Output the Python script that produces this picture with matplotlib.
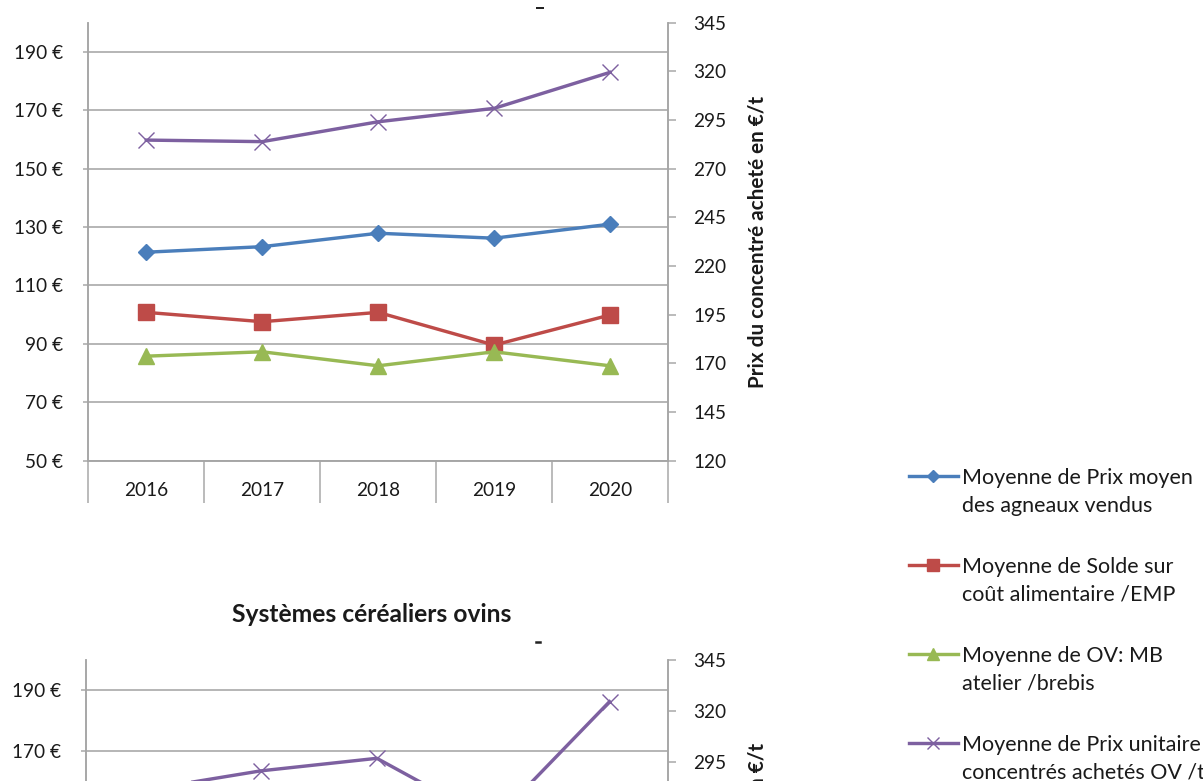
import matplotlib
matplotlib.use('Agg')
import matplotlib.pyplot as plt
from matplotlib.lines import Line2D
from matplotlib.ticker import FixedLocator, FuncFormatter, NullFormatter

plt.rcParams['font.family'] = ['Lato', 'DejaVu Sans']

# ---------------- data ----------------
years = ['2016', '2017', '2018', '2019', '2020']
prix_agneaux = [121.4, 123.3, 127.9, 126.2, 131.0]
solde_cout_alim = [100.8, 97.6, 100.8, 89.6, 99.9]
mb_atelier = [85.8, 87.3, 82.5, 87.3, 82.5]
prix_concentres = [284.7, 283.9, 294.1, 301.0, 319.5]
prix_concentres_cereal = [281.0, 290.4, 296.6, 265.3, 324.5]

left_ticks = [50, 70, 90, 110, 130, 150, 170, 190]
right_ticks = [120, 145, 170, 195, 220, 245, 270, 295, 320, 345]

legend_labels = [
    ("Moyenne de Prix moyen", "des agneaux vendus"),
    ("Moyenne de Solde sur", "coût alimentaire /EMP"),
    ("Moyenne de OV: MB", "atelier /brebis"),
    ("Moyenne de Prix unitaire", "concentrés achetés OV /t"),
]
title_bottom = "Systèmes céréaliers ovins"
right_label = "Prix du concentré acheté en €/t"

# ---------------- style ----------------
W, H = 1203, 781
DPI = 100
def pt(px):
    return px * 72.0 / DPI

BLUE = '#4A7EBB'
RED = '#BE4B48'
GREEN = '#98B954'
PURPLE = '#7D60A0'
GRID = '#A6A6A6'
TXT = '#1a1a1a'

fig = plt.figure(figsize=(W / DPI, H / DPI), dpi=DPI)
fig.patch.set_facecolor('white')

LW = pt(3.4)
styles = {
    'blue': dict(color=BLUE, marker='D', ms=pt(11.3), lw=LW),
    'red': dict(color=RED, marker='s', ms=pt(15.5), lw=LW),
    'green': dict(color=GREEN, marker='^', ms=pt(16), lw=LW),
    'purple': dict(color=PURPLE, marker='x', ms=pt(16), mew=pt(1.4), lw=LW),
}

def make_axes(left_px, right_px, top_px, bottom_px, min_left=None, min_right=None, xlabels=True):
    rect = [left_px / W, 1 - bottom_px / H, (right_px - left_px) / W, (bottom_px - top_px) / H]
    ax = fig.add_axes(rect)
    ax2 = ax.twinx()
    x = list(range(len(years)))
    ax.set_xlim(-0.5, len(years) - 0.5)
    ax.set_ylim(50, 200)
    ax2.set_ylim(120, 345)
    # left axis
    ax.yaxis.set_major_locator(FixedLocator(left_ticks))
    ax.yaxis.set_major_formatter(FuncFormatter(
        lambda v, p: f"{int(v)} €" if (min_left is None or v >= min_left) else ""))
    ax.yaxis.grid(True, color=GRID, lw=pt(1.6))
    ax.set_axisbelow(True)
    ax.tick_params(axis='y', which='major', direction='out', length=pt(5), width=pt(1.5),
                   color=GRID, pad=pt(20), labelsize=pt(19), labelcolor=TXT)
    # x axis
    ax.xaxis.set_major_locator(FixedLocator(x))
    ax.set_xticklabels(years)
    ax.xaxis.set_minor_locator(FixedLocator([i - 0.5 for i in range(len(years) + 1)]))
    ax.xaxis.set_minor_formatter(NullFormatter())
    ax.tick_params(axis='x', which='major', length=0, pad=pt(21), labelsize=pt(19),
                   labelcolor=TXT, labelbottom=xlabels)
    ax.tick_params(axis='x', which='minor', direction='out', length=pt(42), width=pt(1.5), color=GRID)
    # right axis
    ax2.yaxis.set_major_locator(FixedLocator(right_ticks))
    ax2.yaxis.set_major_formatter(FuncFormatter(
        lambda v, p: f"{int(v)}" if (min_right is None or v >= min_right) else ""))
    ax2.tick_params(axis='y', which='major', direction='out', length=pt(8), width=pt(1.5),
                    color=GRID, pad=pt(17), labelsize=pt(19), labelcolor=TXT)
    for a in (ax, ax2):
        a.spines['top'].set_visible(False)
        for s in ('left', 'right', 'bottom'):
            a.spines[s].set_color(GRID)
            a.spines[s].set_linewidth(pt(1.6))
        a.patch.set_visible(False)
    ax2.text(1.155, 0.5, right_label, transform=ax.transAxes, rotation=90,
             ha='center', va='center', fontsize=pt(20.8), fontweight='bold', color=TXT)
    return ax, ax2

# ---------- top chart ----------
ax, ax2 = make_axes(88.3, 668.0, 22.7, 460.7)
x = list(range(len(years)))
ax.plot(x, prix_agneaux, zorder=3, **styles['blue'])
ax.plot(x, solde_cout_alim, zorder=3, **styles['red'])
ax.plot(x, mb_atelier, zorder=3, **styles['green'])
ax2.plot(x, prix_concentres, zorder=3, **styles['purple'])

# ---------- bottom chart (cropped by the figure edge) ----------
bx, bx2 = make_axes(86.0, 667.7, 660.0, 1117.0, min_left=170, min_right=295, xlabels=False)
bx2.plot(x, prix_concentres_cereal, zorder=3, **styles['purple'])
fig.text(372 / W, 1 - 615 / H, title_bottom, ha='center', va='center',
         fontsize=pt(24.6), fontweight='bold', color=TXT)

# small residual marks of cropped subtitles
fig.add_artist(Line2D([537 / W, 543 / W], [1 - 8 / H, 1 - 8 / H], color='#222', lw=pt(2)))
fig.add_artist(Line2D([536 / W, 540 / W], [1 - 642 / H, 1 - 642 / H], color='#222', lw=pt(2.5)))

# ---------- legend (drawn manually) ----------
order = ['blue', 'red', 'green', 'purple']
for i, (key, (l1, l2)) in enumerate(zip(order, legend_labels)):
    yc = 475.5 + i * 89.0
    st = dict(styles[key])
    fig.add_artist(Line2D([909 / W, 958 / W], [1 - yc / H, 1 - yc / H], color=st['color'], lw=LW))
    fig.add_artist(Line2D([933.5 / W], [1 - yc / H], color=st['color'], marker=st['marker'],
                          ms=st['ms'] * 0.75, mew=st.get('mew', 1.0), lw=0))
    fig.text(962 / W, 1 - (yc + 8.5) / H, l1, ha='left', va='baseline', fontsize=pt(21.5), color=TXT)
    fig.text(962 / W, 1 - (yc + 36.0) / H, l2, ha='left', va='baseline', fontsize=pt(21.5), color=TXT)

fig.savefig('out.png', dpi=DPI)
